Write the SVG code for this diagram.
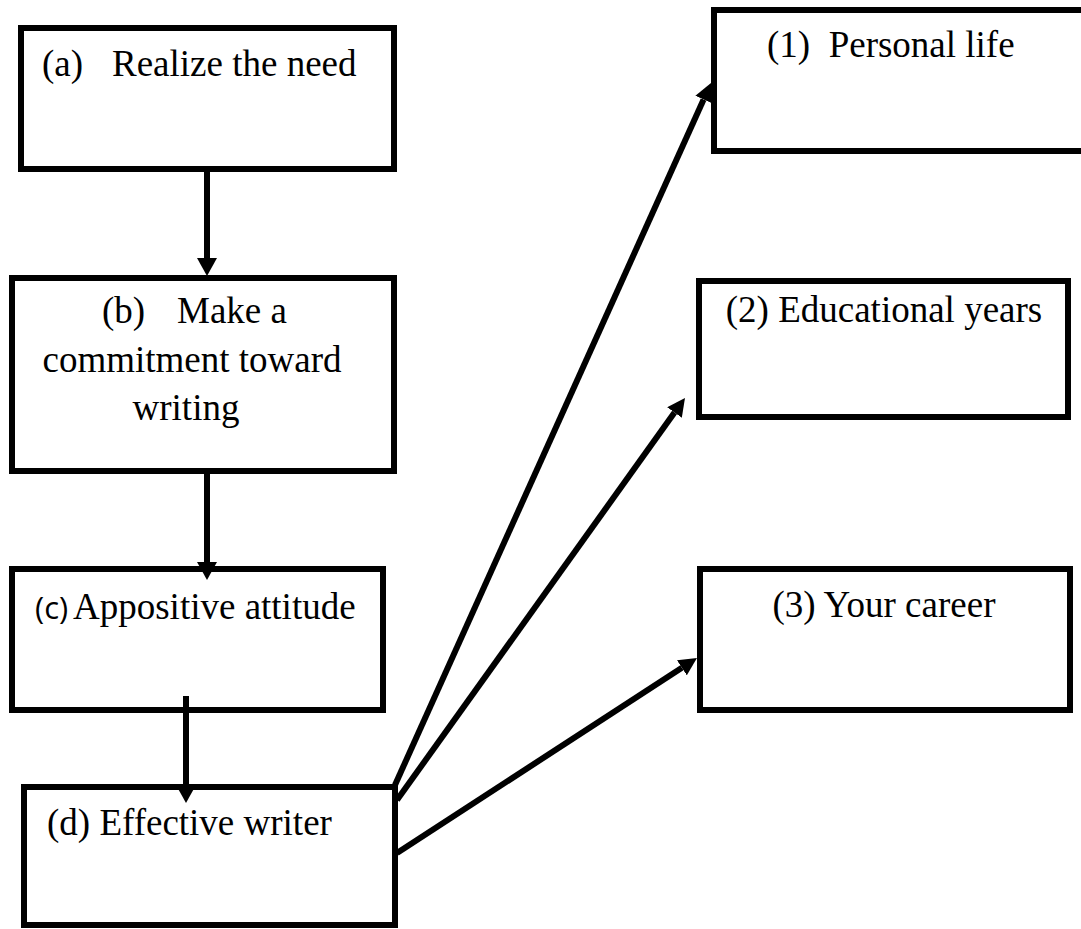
<svg xmlns="http://www.w3.org/2000/svg" width="1081" height="929" viewBox="0 0 1081 929">
  <style>
    .box { fill: #ffffff; stroke: #000000; stroke-width: 6; }
    .lbl { font-family: "Liberation Serif", "Times New Roman", serif; font-size: 37px; fill: #000000; }
    .sans { font-family: "Open Sans", "Liberation Sans", sans-serif; font-size: 31px; }
    .mid { text-anchor: middle; }
    .conn { fill: none; stroke: #000000; stroke-width: 6; }
  </style>
  <defs>
    <marker id="ah" markerUnits="userSpaceOnUse" viewBox="0 0 18 18" refX="0" refY="9" markerWidth="18" markerHeight="18" orient="auto">
      <path d="M0,0 L18,9 L0,18 Z" fill="#000000"/>
    </marker>
    <marker id="ahv" markerUnits="userSpaceOnUse" viewBox="0 0 18 20" refX="0" refY="10" markerWidth="18" markerHeight="20" orient="auto">
      <path d="M0,0 L18,10 L0,20 Z" fill="#000000"/>
    </marker>
  </defs>

  <g id="node-a">
    <rect class="box" x="21" y="28" width="373" height="141"/>
    <text class="lbl" y="76"><tspan x="42">(a)</tspan><tspan x="112">Realize the need</tspan></text>
  </g>
  <g id="node-b">
    <rect class="box" x="12" y="278" width="382" height="193"/>
    <text class="lbl" y="323"><tspan x="102">(b)</tspan><tspan x="177">Make a</tspan></text>
    <text class="lbl mid" x="192" y="372">commitment toward</text>
    <text class="lbl mid" x="186" y="420">writing</text>
  </g>
  <g id="node-c">
    <rect class="box" x="12" y="569" width="371" height="141"/>
    <text class="lbl" y="619"><tspan class="sans" x="35">(c)</tspan><tspan x="73">Appositive attitude</tspan></text>
  </g>
  <g id="node-d">
    <rect class="box" x="24" y="787" width="371" height="138"/>
    <text class="lbl" x="47" y="835">(d) Effective writer</text>
  </g>
  <g id="node-1">
    <rect class="box" x="714" y="10" width="400" height="141"/>
    <text class="lbl" x="767" y="57">(1)&#160; Personal life</text>
  </g>
  <g id="node-2">
    <rect class="box" x="699" y="281" width="369" height="136"/>
    <text class="lbl mid" x="884" y="322">(2) Educational years</text>
  </g>
  <g id="node-3">
    <rect class="box" x="700" y="569" width="370" height="141"/>
    <text class="lbl mid" x="884" y="617">(3) Your career</text>
  </g>

  <g id="connectors">
    <path class="conn" d="M207,172 L207,258" marker-end="url(#ahv)"/>
    <path class="conn" d="M207,474 L207,562" marker-end="url(#ahv)"/>
    <path class="conn" d="M186,696 L186,785" marker-end="url(#ahv)"/>
    <path class="conn" d="M395,785 L703.6,99.4" marker-end="url(#ah)"/>
    <path class="conn" d="M397,800 L674.5,412.6" marker-end="url(#ah)"/>
    <path class="conn" d="M397,853 L681.9,667.8" marker-end="url(#ah)"/>
  </g>
</svg>
